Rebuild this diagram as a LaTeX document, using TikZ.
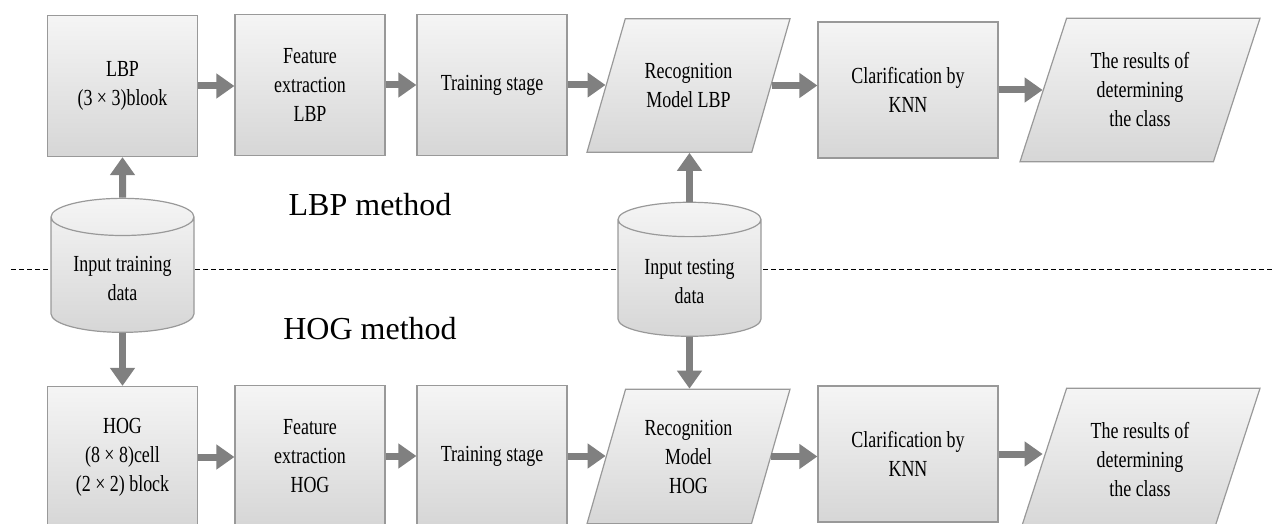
\documentclass[tikz,border=0pt]{standalone}
\usepackage{fontspec}
\setmainfont{Liberation Serif}[FakeStretch=0.78]
\newfontfamily\methodfont{Liberation Serif}
\usetikzlibrary{shapes.geometric, arrows.meta}

\begin{document}
\begin{tikzpicture}[x=0.5pt, y=-0.5pt,
	stage/.style={rectangle, draw=gray!80, line width=0.6pt, top color=gray!8, bottom color=gray!32,
		align=center, font=\fontsize{11.5}{14.5}\selectfont, inner sep=2pt,
		minimum width=75pt, minimum height=70.5pt},
	model/.style={stage, trapezium, trapezium left angle=#1, trapezium right angle=180-#1,
		trapezium stretches body=true, minimum height=0pt},
	model/.default=74,
	store/.style={stage, cylinder, shape border rotate=90, aspect=0.35,
		minimum width=71.5pt, minimum height=67pt},
	method/.style={font=\methodfont\fontsize{16}{19}\selectfont},
	flow/.style={draw=gray, line width=3.5pt, -{Triangle[width=12pt, length=9pt]}},
	sep/.style={draw=black, line width=0.5pt, dash pattern=on 2.5pt off 1.5pt}]
	\useasboundingbox (0,0) rectangle (1274,524);
	% LBP row
	\node[stage] (lbp) at (122.5, 86) {LBP\\(3 × 3)blook};
	\node[stage] (featl) at (310, 85) {Feature\\extraction\\LBP};
	\node[stage] (trainl) at (492, 85) {Training stage};
	\node[model, minimum width=101.5pt, inner ysep=22.25pt] (recl) at (688.5, 85.5) {Recognition\\Model LBP};
	\node[stage, minimum width=90pt, minimum height=68pt] (clasl) at (908, 90) {Clarification by\\KNN};
	\node[model=72, minimum width=120pt, inner ysep=17.25pt] (resl) at (1140, 90) {The results of\\determining\\the class};
	% HOG row
	\node[stage] (hog) at (122.5, 457) {HOG\\(8 × 8)cell\\(2 × 2) block};
	\node[stage] (feath) at (310, 456) {Feature\\extraction\\HOG};
	\node[stage] (trainh) at (492, 456) {Training stage};
	\node[model, minimum width=101.5pt, inner ysep=15.25pt] (rech) at (688.5, 456.5) {Recognition\\Model\\HOG};
	\node[stage, minimum width=90pt, minimum height=68pt] (clash) at (908, 454) {Clarification by\\KNN};
	\node[model=72, minimum width=120pt, inner ysep=17.25pt] (resh) at (1140, 460) {The results of\\determining\\the class};
	% data and separator
	\coordinate (sepl) at (11, 269);
	\coordinate (sepr) at (1274, 269);
	\draw[sep] (sepl) -- (sepr);
	\node[store] (trainin) at (122.5, 278) {Input training\\data};
	\node[store] (testin) at (689.5, 281) {Input testing\\data};
	\node[method] (lbpm) at (370, 205) {LBP method};
	\node[method] (hogm) at (370, 329) {HOG method};
	\path	(lbp.east) edge[flow] (lbp.east -| featl.west)
			(featl.east) edge[flow] (featl.east -| trainl.west)
			(trainl.east) edge[flow] (trainl.east -| recl.west)
			(recl.east) edge[flow] (recl.east -| clasl.west)
			(clasl.east) edge[flow] (clasl.east -| resl.west)
			(hog.east) edge[flow] (hog.east -| feath.west)
			(feath.east) edge[flow] (feath.east -| trainh.west)
			(trainh.east) edge[flow] (trainh.east -| rech.west)
			(rech.east) edge[flow] (rech.east -| clash.west)
			(clash.east) edge[flow] (clash.east -| resh.west)
			(trainin.north) edge[flow] (lbp.south)
			(trainin.south) edge[flow] (hog.north)
			(testin.north) edge[flow] (testin.north |- recl.south)
			(testin.south) edge[flow] (testin.south |- rech.north);
\end{tikzpicture}
\end{document}
